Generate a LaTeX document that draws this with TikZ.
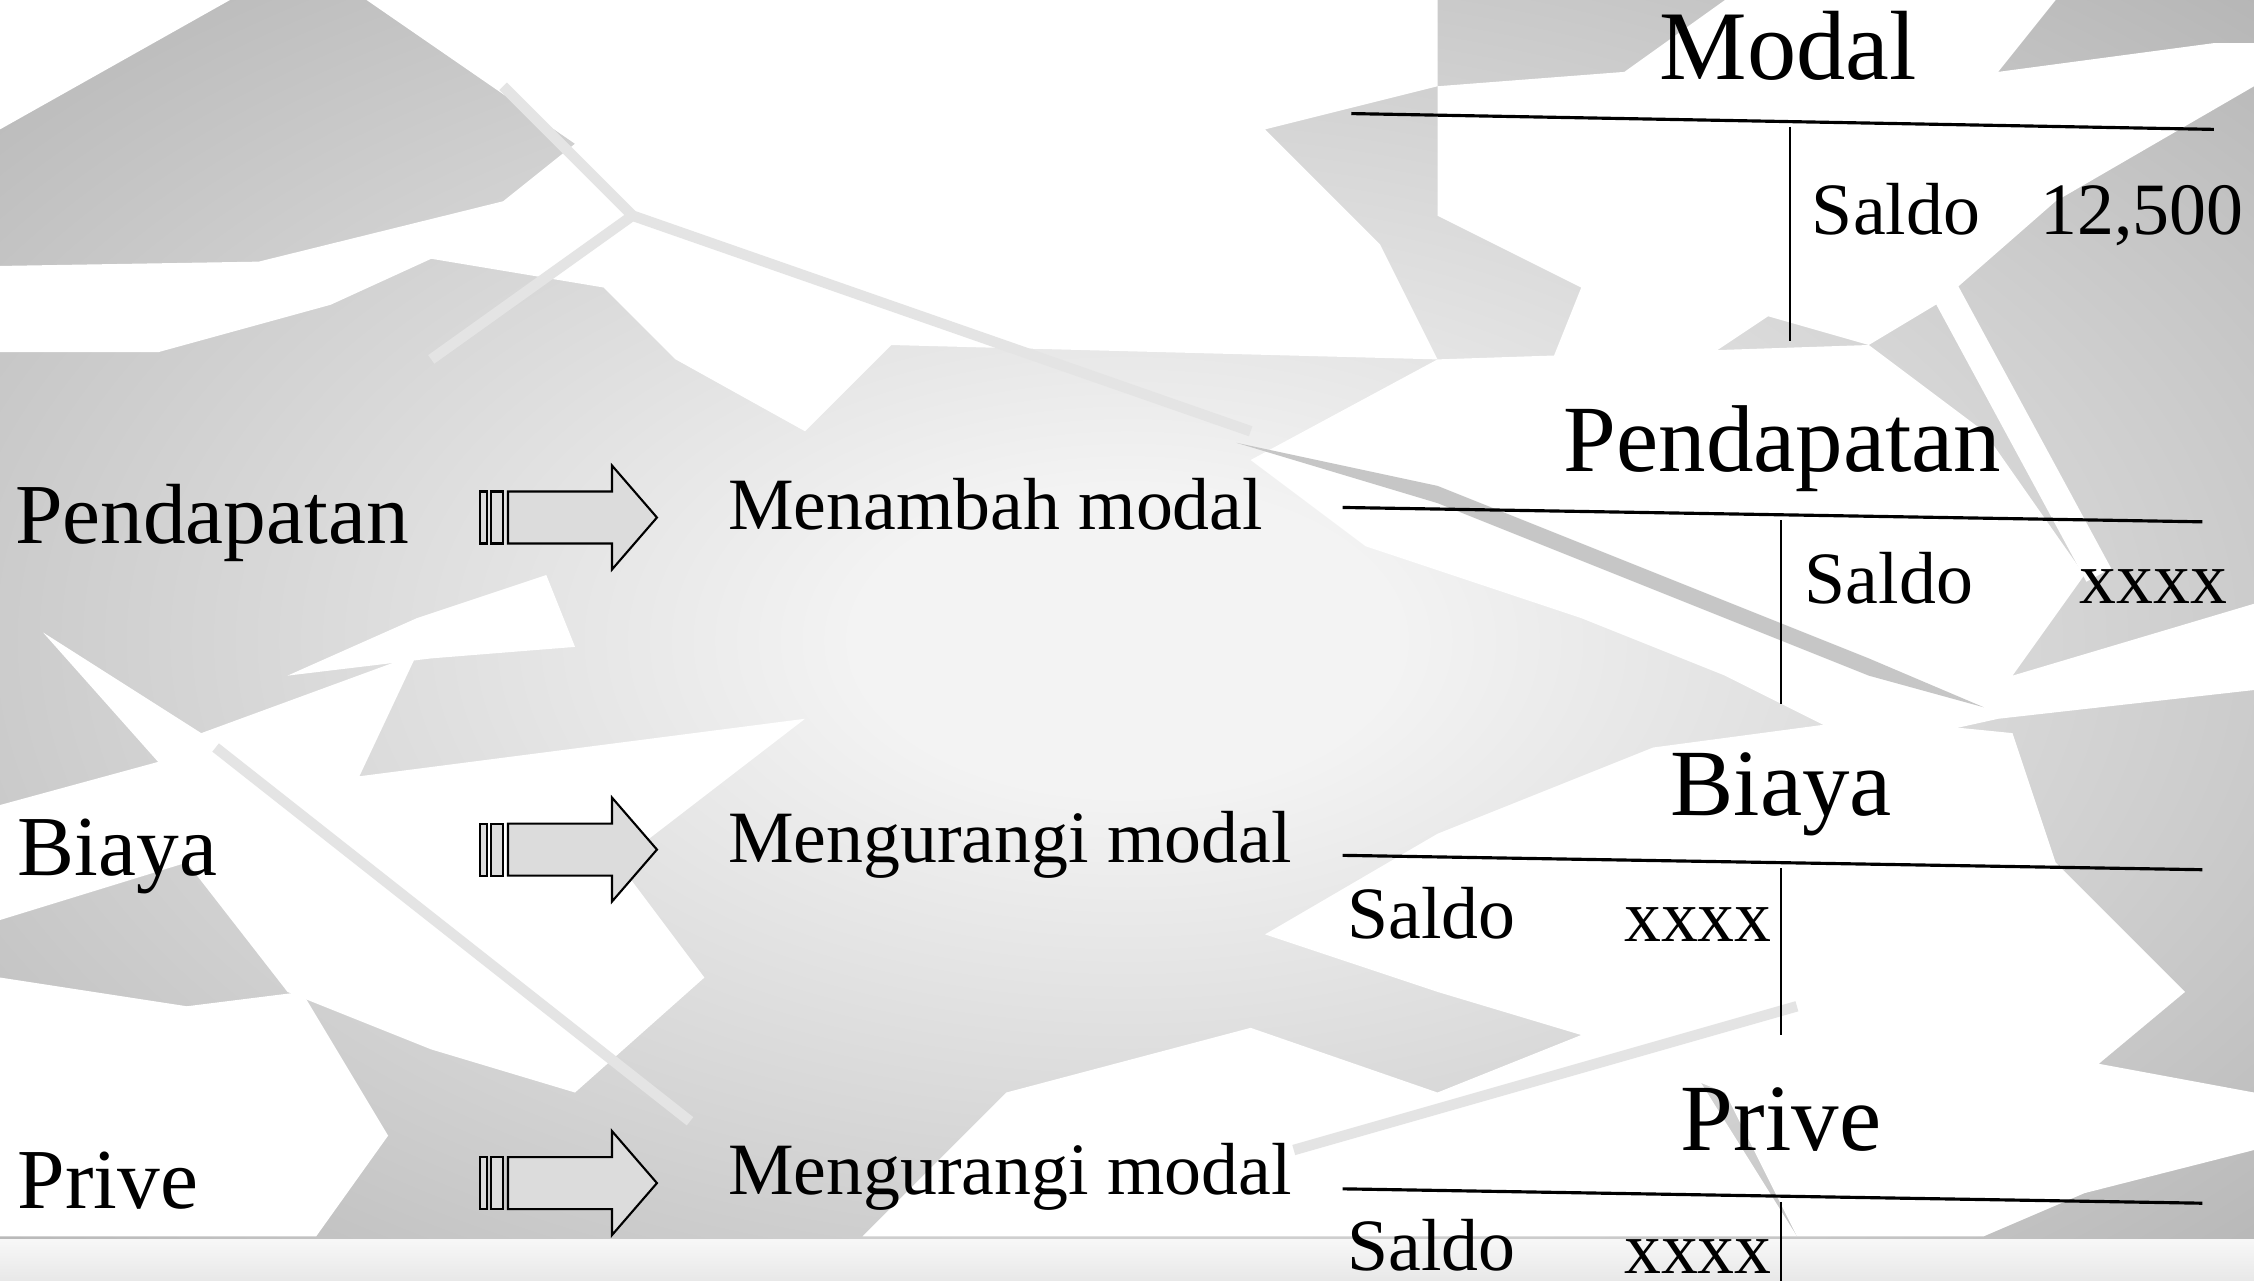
\documentclass[tikz,border=0pt]{standalone}
\usepackage{fontspec}
\setmainfont{Liberation Serif}
\usetikzlibrary{positioning}
\definecolor{latarTepi}{HTML}{989898}
\definecolor{latarTengah}{HTML}{F3F3F3}
\definecolor{isiPanah}{HTML}{DCDCDC}
\definecolor{urat}{HTML}{E4E4E4}
\definecolor{bayang}{HTML}{C6C6C6}
\pgfdeclareradialshading{latar}{\pgfpoint{0bp}{0bp}}{color(0bp)=(latarTengah); color(6bp)=(latarTengah); color(50bp)=(latarTepi); color(75bp)=(latarTepi)}
\tikzstyle{judul} = [anchor=base, inner sep=0pt, font=\fontsize{27}{30}\selectfont]
\tikzstyle{label kiri} = [anchor=base west, inner sep=0pt, font=\fontsize{24.3}{28}\selectfont]
\tikzstyle{keterangan} = [anchor=base west, inner sep=0pt, font=\fontsize{21}{25}\selectfont]
\tikzstyle{isian} = [inner sep=0pt, font=\fontsize{21}{25}\selectfont]
\tikzstyle{garis akun} = [line width=0.9pt]
\tikzstyle{garis tegak} = [line width=0.5pt]
\tikzstyle{daun} = [fill=white, draw=none]
\tikzstyle{panah} = [draw=black, line width=0.6pt, fill=isiPanah, line join=miter]
\begin{document}
\begin{tikzpicture}[x=0.014375cm, y=-0.014375cm]
    \useasboundingbox (0,0) rectangle (1568,891);

    % latar belakang
    \shade[shading=latar] (0,0) rectangle (1568,891);
    \fill[daun] (0,0) -- (160,0) -- (0,90) -- cycle;
    \fill[daun] (255,0) -- (1000,0) -- (1000,60) -- (880,90) -- (960,170) -- (1000,250) -- (620,240) -- (560,300) -- (470,250) -- (420,200) -- (300,180) -- (230,212) -- (110,245) -- (0,245) -- (0,185) -- (180,182) -- (350,140) -- (400,100) -- cycle;
    \fill[daun] (1000,60) -- (1130,50) -- (1200,0) -- (1430,0) -- (1390,50) -- (1540,30) -- (1568,30) -- (1568,60) -- (1430,140) -- (1350,210) -- (1300,240) -- (1230,220) -- (1170,260) -- (1080,250) -- (1100,200) -- (1000,150) -- cycle;
    \fill[daun] (1000,250) -- (1300,240) -- (1380,300) -- (1450,400) -- (1400,470) -- (1568,420) -- (1568,480) -- (1390,500) -- (1300,520) -- (1200,470) -- (1100,430) -- (950,380) -- (870,320) -- cycle;
    \fill[daun] (880,650) -- (1000,580) -- (1150,520) -- (1300,500) -- (1400,510) -- (1430,600) -- (1520,690) -- (1460,740) -- (1568,760) -- (1568,800) -- (1450,830) -- (1380,860) -- (1250,860) -- (1200,760) -- (1100,720) -- (1000,690) -- cycle;
    \fill[daun] (600,860) -- (700,760) -- (870,715) -- (1000,760) -- (1150,700) -- (1250,860) -- cycle;
    \fill[daun] (30,440) -- (140,510) -- (290,455) -- (250,540) -- (560,500) -- (430,600) -- (490,680) -- (400,760) -- (300,730) -- (200,690) -- (130,600) -- (0,640) -- (0,560) -- (110,530) -- cycle;
    \fill[daun] (0,680) -- (130,700) -- (210,690) -- (270,790) -- (220,860) -- (0,860) -- cycle;
    \fill[daun] (200,470) -- (290,430) -- (380,400) -- (400,450) -- (300,458) -- cycle;
    \draw[urat, line width=3pt] (440,150) -- (870,300);
    \draw[urat, line width=3pt] (350,60) -- (440,150) -- (300,250);
    \draw[urat, line width=3pt] (150,520) -- (480,780);
    \draw[white, line width=8pt] (1330,160) -- (1460,400);
    \draw[urat, line width=3pt] (900,800) -- (1250,700);
    \fill[bayang] (860,308) -- (1000,338) -- (1300,458) -- (1380,492) -- (1300,470) -- (1000,350) -- cycle;
    \shade[top color=white!97!black, bottom color=white!91!black] (0,862) rectangle (1568,891);

    % label kiri
    \node (lblPendapatan) [label kiri] at (10,378) {Pendapatan};
    \node (lblBiaya) [label kiri] at (12,609) {Biaya};
    \node (lblPrive) [label kiri] at (12,841) {Prive};

    % panah
    \foreach \y in {360,591,823} {
        \draw[panah] (333.9,{\y-18.1}) rectangle (338.8,{\y+18.1});
        \draw[panah] (341.6,{\y-18.1}) rectangle (349.9,{\y+18.1});
        \draw[panah] (353.4,{\y-18.1}) -- (425.7,{\y-18.1}) -- (425.7,{\y-36.2}) -- (457,\y) -- (425.7,{\y+36.2}) -- (425.7,{\y+18.1}) -- (353.4,{\y+18.1}) -- cycle;
    }

    % keterangan
    \node (ketTambah) [keterangan] at (506,368) {Menambah modal};
    \node (ketKurang1) [keterangan] at (506,600) {Mengurangi modal};
    \node (ketKurang2) [keterangan] at (506,831) {Mengurangi modal};

    % akun modal
    \node (jdlModal) [judul, font=\fontsize{28}{31}\selectfont] at (1244,55) {Modal};
    \coordinate (modalKiri) at (940,79);
    \coordinate (modalKanan) at (1540,90);
    \coordinate (modalAtas) at (1245,88);
    \coordinate (modalBawah) at (1245,237);
    \draw[garis akun] (modalKiri) -- (modalKanan);
    \draw[garis tegak] (modalAtas) -- (modalBawah);
    \node (modalSaldo) [isian, anchor=base west] at (1260,163) {Saldo};
    \node (modalNilai) [isian, anchor=base east] at (1561,163) {12,500};

    % akun pendapatan
    \node (jdlPendapatan) [judul] at (1240,328) {Pendapatan};
    \coordinate (pdpKiri) at (934,353);
    \coordinate (pdpKanan) at (1532,363);
    \coordinate (pdpAtas) at (1239,362);
    \coordinate (pdpBawah) at (1239,490);
    \draw[garis akun] (pdpKiri) -- (pdpKanan);
    \draw[garis tegak] (pdpAtas) -- (pdpBawah);
    \node (pdpSaldo) [isian, anchor=base west] at (1255,420) {Saldo};
    \node (pdpNilai) [isian, anchor=base east] at (1550,420) {xxxx};

    % akun biaya
    \node (jdlBiaya) [judul] at (1239,567) {Biaya};
    \coordinate (byKiri) at (934,595);
    \coordinate (byKanan) at (1532,605);
    \coordinate (byAtas) at (1239,604);
    \coordinate (byBawah) at (1239,720);
    \draw[garis akun] (byKiri) -- (byKanan);
    \draw[garis tegak] (byAtas) -- (byBawah);
    \node (bySaldo) [isian, anchor=base west] at (937,653) {Saldo};
    \node (byNilai) [isian, anchor=base east] at (1233,655) {xxxx};

    % akun prive
    \node (jdlPrive) [judul] at (1239,800) {Prive};
    \coordinate (prvKiri) at (934,827);
    \coordinate (prvKanan) at (1532,837);
    \coordinate (prvAtas) at (1239,836);
    \coordinate (prvBawah) at (1239,891);
    \draw[garis akun] (prvKiri) -- (prvKanan);
    \draw[garis tegak] (prvAtas) -- (prvBawah);
    \node (prvSaldo) [isian, anchor=base west] at (937,884) {Saldo};
    \node (prvNilai) [isian, anchor=base east] at (1233,886) {xxxx};
\end{tikzpicture}
\end{document}
